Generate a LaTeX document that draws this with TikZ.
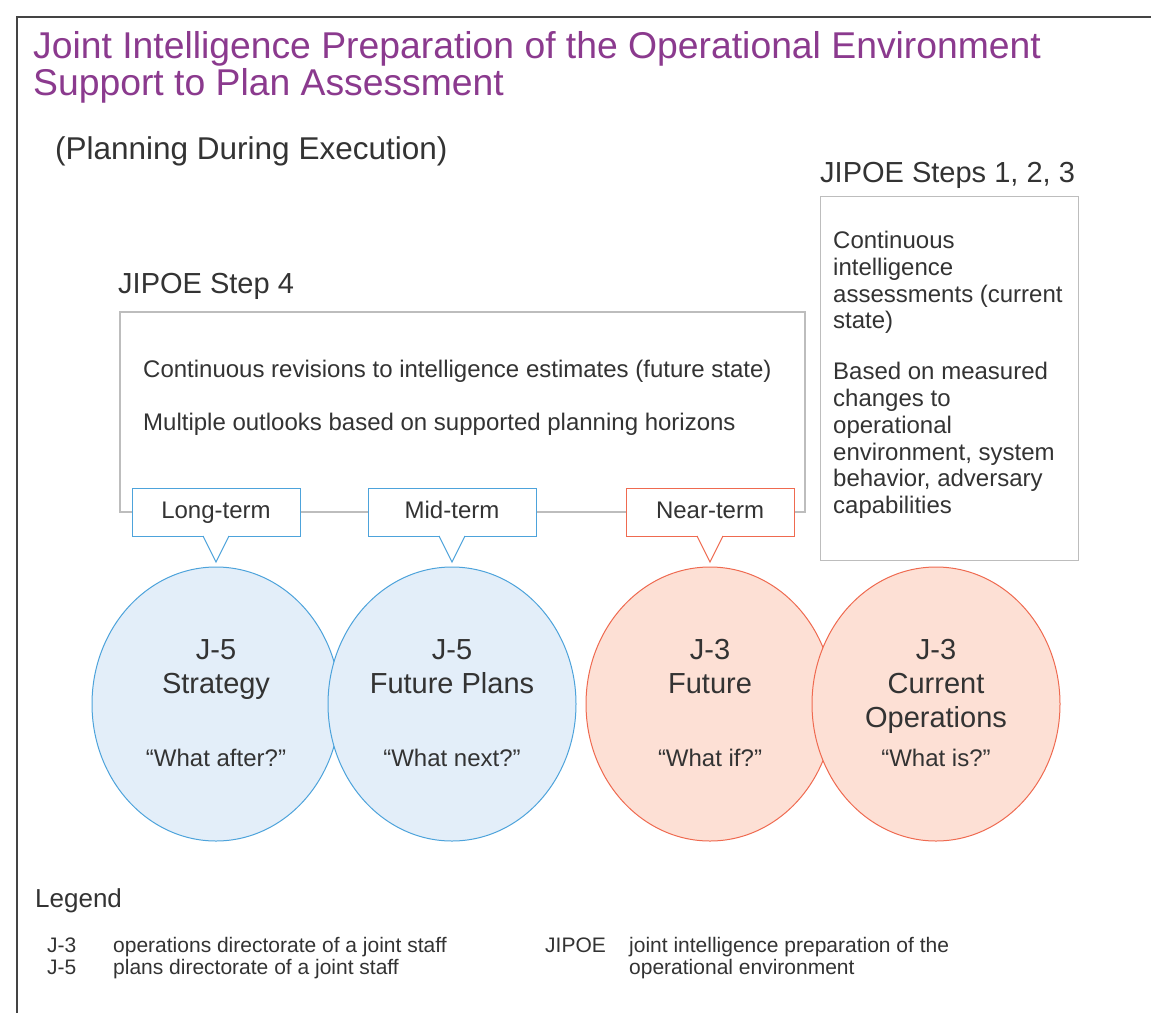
\documentclass[tikz,border=0pt]{standalone}
\usepackage{fontspec}
\setmainfont{Liberation Sans}
\usetikzlibrary{shapes.geometric,calc}
\definecolor{titlepurple}{HTML}{8B3A8E}
\definecolor{txt}{HTML}{333333}
\definecolor{boxgray}{HTML}{BDBDBD}
\definecolor{framegray}{HTML}{444444}
\definecolor{bluestroke}{HTML}{4DA3DB}
\definecolor{bluefill}{HTML}{E3EEF9}
\definecolor{redstroke}{HTML}{EF6A50}
\definecolor{redfill}{HTML}{FDE0D5}
\tikzset{
  lbl/.style={text=txt, inner sep=0pt, anchor=base west},
  boxline/.style={draw=boxgray, line width=1.3pt},
  callout/.style={rectangle, fill=white, line width=1pt, minimum width=168pt, minimum height=48pt, inner sep=0pt, text=txt, text height=17pt, text depth=5pt, font=\fontsize{24}{27}\selectfont},
  bluecirc/.style={ellipse, draw=bluestroke, fill=bluefill, line width=1pt, minimum width=248pt, minimum height=274pt, inner sep=0pt},
  redcirc/.style={ellipse, draw=redstroke, fill=redfill, line width=1pt, minimum width=248pt, minimum height=274pt, inner sep=0pt},
  circtitle/.style={text=txt, inner sep=0pt, anchor=north, align=center, font=\fontsize{29}{34}\selectfont},
  circquote/.style={text=txt, inner sep=0pt, anchor=base, font=\fontsize{24}{27}\selectfont},
  legitem/.style={lbl, font=\fontsize{21}{22}\selectfont},
}
\begin{document}
\begin{tikzpicture}[x=1pt,y=-1pt]
\useasboundingbox (0,0) rectangle (1151,1012);
\fill[white] (0,0) rectangle (1151,1012);
% outer frame
\draw[framegray, line width=2pt] (17,1014) -- (17,17) -- (1153,17);

% title
\node[lbl, text=titlepurple, font=\fontsize{37.3}{37}\selectfont] (t1) at (33,58) {Joint Intelligence Preparation of the Operational Environment};
\node[lbl, text=titlepurple, font=\fontsize{37.3}{37}\selectfont] (t2) at (33,95) {Support to Plan Assessment};
\node[lbl, font=\fontsize{31.5}{34}\selectfont] (sub) at (55,159) {(Planning During Execution)};

% headings
\node[lbl, font=\fontsize{29}{33}\selectfont] (h123) at (820,182) {JIPOE Steps 1, 2, 3};
\node[lbl, font=\fontsize{29}{33}\selectfont] (h4) at (118,293) {JIPOE Step 4};

% right box
\node[draw=boxgray, line width=1.3pt, minimum width=258pt, minimum height=364pt, inner sep=0pt, anchor=north west] (rb) at (820,196) {};
\node[text=txt, inner sep=0pt, anchor=north west, align=left, font=\fontsize{24}{26.8}\selectfont] (rbt) at (833,231) {Continuous\\intelligence\\assessments (current\\state)\\[24pt]Based on measured\\changes to\\operational\\environment, system\\behavior, adversary\\capabilities};

% callouts
\coordinate (tlt) at (216,562);
\coordinate (tmt) at (452,562);
\coordinate (tnt) at (710,562);
\node[callout, draw=bluestroke] (lt) at (216,512) {Long-term};
\node[callout, draw=bluestroke] (mt) at (452,512) {Mid-term};
\node[callout, draw=redstroke] (nt) at (710,512) {Near-term};

% big box (open frame joined to the callouts)
\draw[boxline] (lt.west) -- (120,512) -- (120,312) -- (805,312) -- (805,512) -- (nt.east);
\draw[boxline] (lt.east) -- (mt.west);
\draw[boxline] (mt.east) -- (nt.west);

\node[lbl, font=\fontsize{24}{27}\selectfont] (b1) at (143,377) {Continuous revisions to intelligence estimates (future state)};
\node[lbl, font=\fontsize{24}{27}\selectfont] (b2) at (143,430) {Multiple outlooks based on supported planning horizons};

% callout pointers
\foreach \n/\t/\c in {lt/tlt/bluestroke, mt/tmt/bluestroke, nt/tnt/redstroke}{
  \fill[white] ([xshift=-13pt,yshift=2pt]\n.south) -- (\t) -- ([xshift=13pt,yshift=2pt]\n.south) -- cycle;
  \draw[\c, line width=1pt, line join=miter] ([xshift=-13pt,yshift=0.5pt]\n.south) -- (\t) -- ([xshift=13pt,yshift=0.5pt]\n.south);
}

% circles
\node[bluecirc] (c1) at (216,704) {};
\node[bluecirc] (c2) at (452,704) {};
\node[redcirc] (c3) at (710,704) {};
\node[redcirc] (c4) at (936,704) {};

\node[circtitle] (c1t) at (216,639) {J-5\\Strategy};
\node[circtitle] (c2t) at (452,639) {J-5\\Future Plans};
\node[circtitle] (c3t) at (710,639) {J-3\\Future};
\node[circtitle] (c4t) at (936,639) {J-3\\Current\\Operations};

\node[circquote] (c1q) at (216,766) {“What after?”};
\node[circquote] (c2q) at (452,766) {“What next?”};
\node[circquote] (c3q) at (710,766) {“What if?”};
\node[circquote] (c4q) at (936,766) {“What is?”};

% legend
\node[lbl, font=\fontsize{26}{28}\selectfont] (leg) at (35,907) {Legend};
\node[legitem] (l1a) at (47,952.5) {J-3};
\node[legitem] (l1b) at (113,952.5) {operations directorate of a joint staff};
\node[legitem] (l2a) at (47,974.5) {J-5};
\node[legitem] (l2b) at (113,974.5) {plans directorate of a joint staff};
\node[legitem] (l3a) at (545,952.5) {JIPOE};
\node[legitem] (l3b) at (629,952.5) {joint intelligence preparation of the};
\node[legitem] (l3c) at (629,974.5) {operational environment};
\end{tikzpicture}
\end{document}
